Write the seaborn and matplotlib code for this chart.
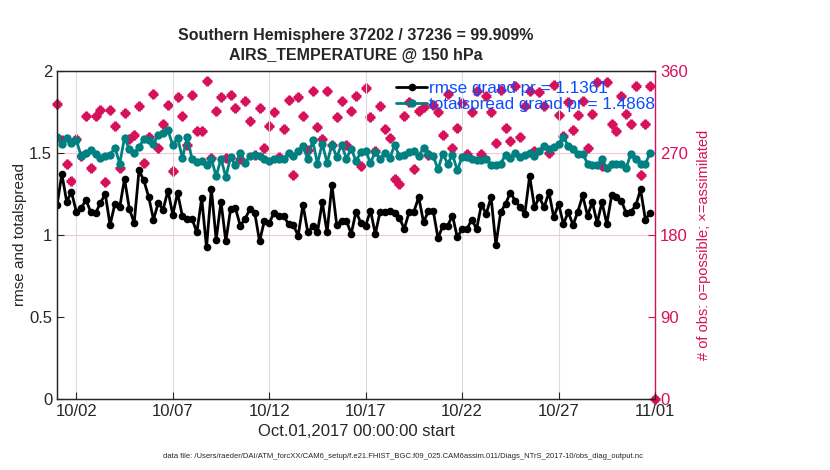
import pandas as pd
import matplotlib
matplotlib.use("Agg")
import matplotlib.pyplot as plt
import matplotlib.dates as mdates
import numpy as np
import seaborn as sns

# 6-hourly bins, Oct 1 00Z .. Nov 1 00Z
times = pd.date_range("2017-10-01 00:00", periods=125, freq="6h")

rmse = [1.18, 1.373, 1.204, 1.261, 1.143, 1.163, 1.214, 1.139, 1.135, 1.194,
        1.251, 1.061, 1.19, 1.169, 1.343, 1.159, 1.073, 1.394, 1.333, 1.233,
        1.094, 1.196, 1.155, 1.271, 1.124, 1.257, 1.114, 1.098, 1.098, 1.016,
        1.224, 0.924, 1.282, 0.971, 1.204, 0.961, 1.159, 1.163, 1.057, 1.098,
        1.159, 1.135, 0.961, 1.088, 1.073, 1.135, 1.118, 1.114, 1.067, 1.061,
        0.996, 1.184, 1.016, 1.053, 1.016, 1.2, 1.016, 1.306, 1.061, 1.088,
        1.088, 1.006, 1.143, 1.073, 1.057, 1.149, 1.006, 1.143, 1.143, 1.149,
        1.133, 1.104, 1.037, 1.139, 1.143, 1.231, 1.078, 1.145, 1.149, 0.98,
        1.057, 1.057, 1.118, 0.986, 1.037, 1.037, 1.094, 1.037, 1.184, 1.129,
        1.231, 0.941, 1.139, 1.19, 1.257, 1.21, 1.169, 1.129, 1.359, 1.169,
        1.231, 1.169, 1.261, 1.108, 1.19, 1.067, 1.139, 1.061, 1.143, 1.241,
        1.118, 1.2, 1.073, 1.2, 1.067, 1.241, 1.231, 1.21, 1.135, 1.143,
        1.18, 1.278, 1.094, 1.135, np.nan]

totalspread = [1.598, 1.557, 1.592, 1.563, 1.578, 1.482, 1.502, 1.516, 1.496, 1.469,
               1.482, 1.49, 1.533, 1.435, 1.594, 1.522, 1.5, 1.537, 1.584, 1.578,
               1.557, 1.612, 1.624, 1.639, 1.547, 1.594, 1.469, 1.598, 1.461, 1.445,
               1.449, 1.429, 1.465, 1.359, 1.465, 1.353, 1.476, 1.424, 1.502, 1.439,
               1.482, 1.49, 1.482, 1.461, 1.449, 1.465, 1.461, 1.465, 1.502, 1.482,
               1.51, 1.543, 1.461, 1.578, 1.435, 1.557, 1.441, 1.551, 1.476, 1.551,
               1.465, 1.527, 1.45, 1.506, 1.51, 1.441, 1.506, 1.465, 1.502, 1.469,
               1.547, 1.482, 1.49, 1.506, 1.51, 1.482, 1.531, 1.496, 1.482, 1.4,
               1.496, 1.435, 1.49, 1.394, 1.476, 1.476, 1.465, 1.455, 1.455, 1.465,
               1.429, 1.424, 1.435, 1.49, 1.469, 1.502, 1.476, 1.486, 1.502, 1.482,
               1.51, 1.543, 1.527, 1.537, 1.557, 1.598, 1.543, 1.522, 1.496, 1.496,
               1.435, 1.424, 1.424, 1.461, 1.408, 1.435, 1.435, 1.435, 1.408, 1.496,
               1.461, 1.435, 1.435, 1.502, np.nan]

nposs = [324, 284, 258, 239, 285, 267, 311, 253, 311, 317,
         238, 317, 300, 253, 314, 285, 290, 322, 259, 288,
         335, 275, 302, 323, 250, 331, 311, 279, 334, 294,
         294, 349, 264, 316, 331, 265, 334, 319, 263, 327,
         305, 268, 319, 276, 300, 315, 266, 296, 328, 246,
         331, 311, 273, 338, 298, 285, 338, 279, 309, 327,
         279, 316, 332, 256, 341, 310, 272, 322, 296, 286,
         242, 236, 311, 326, 252, 316, 320, 268, 323, 315,
         290, 335, 276, 297, 325, 269, 315, 338, 269, 332,
         315, 281, 339, 297, 283, 343, 288, 322, 338, 272,
         337, 322, 270, 345, 312, 289, 326, 295, 312, 327,
         276, 313, 348, 256, 348, 302, 294, 333, 313, 302,
         344, 246, 302, 343, 0]
nused = list(nposs)

crimson = "#d6105a"
teal = "#008080"
legend_blue = "#0a4cff"

df = pd.DataFrame({"time": times, "rmse": rmse, "totalspread": totalspread,
                   "nposs": nposs, "nused": nused})

sns.set_style("ticks")
plt.rcParams["font.family"] = ["Liberation Sans", "DejaVu Sans"]

fig = plt.figure(figsize=(8.3, 4.7), dpi=100)
ax = fig.add_axes([0.0687, 0.151, 0.7205, 0.698])
ax2 = ax.twinx()

# obs counts on right axis
sns.scatterplot(data=df, x="time", y="nposs", ax=ax2, marker="o", s=32,
                color=crimson, edgecolor=crimson, linewidth=0.5, clip_on=False, zorder=2)
sns.scatterplot(data=df, x="time", y="nused", ax=ax2, marker="+", s=60,
                color=crimson, linewidth=2.2, clip_on=False, zorder=2)
ax2.set_ylim(0, 360)
ax2.set_yticks([0, 90, 180, 270, 360])
ax2.set_ylabel("# of obs: o=possible; \u00d7=assimilated", color=crimson, fontsize=10.5)
ax2.yaxis.set_label_coords(1.07, 0.47)
ax2.tick_params(axis="y", colors=crimson, direction="in", labelsize=12, length=5)
ax2.spines["right"].set_color(crimson)
ax2.spines["right"].set_linewidth(1.0)
for v in [180, 270]:
    ax2.axhline(v, color="#f4c6d6", lw=0.8, zorder=0)

# rmse / spread on left axis, drawn above counts
ax.set_zorder(ax2.get_zorder() + 1)
ax.patch.set_visible(False)
sns.lineplot(data=df, x="time", y="rmse", ax=ax, color="black", lw=2,
             marker="o", markersize=5.5, markeredgewidth=0,
             label="rmse grand pr = 1.1361")
sns.lineplot(data=df, x="time", y="totalspread", ax=ax, color=teal, lw=2,
             marker="o", markersize=6, markeredgewidth=0,
             label="totalspread grand pr = 1.4868")

ax.set_xlim(times[0], times[-1])
ax.set_ylim(0, 2)
ax.set_yticks([0, 0.5, 1, 1.5, 2])
ax.set_yticklabels(["0", "0.5", "1", "1.5", "2"])
xt = pd.date_range("2017-10-02", "2017-11-01", freq="5D")
ax.set_xticks(xt)
ax.xaxis.set_major_formatter(mdates.DateFormatter("%m/%d"))
for t in xt:
    ax.axvline(t, color="#dcdcdc", lw=0.8, zorder=0)
ax.tick_params(direction="in", labelsize=12, length=5)
ax2.tick_params(axis="x", direction="in")
ax.set_ylabel("rmse and totalspread", fontsize=11)
ax.yaxis.set_label_coords(-0.05, 0.5)
ax.set_xlabel("Oct.01,2017 00:00:00 start", fontsize=12, labelpad=4)
for s in ["left", "top", "bottom"]:
    ax.spines[s].set_linewidth(1.0)
ax.spines["right"].set_visible(False)
ax2.spines["top"].set_color("black")

ax.set_title("Southern Hemisphere 37202 / 37236 = 99.909%\nAIRS_TEMPERATURE @ 150 hPa",
             fontsize=11.5, fontweight="bold", pad=8, linespacing=1.4)

leg = ax.legend(loc="upper left", bbox_to_anchor=(0.556, 0.99), frameon=False,
                fontsize=12.3, handlelength=1.8, handletextpad=0.1, borderaxespad=0,
                labelspacing=0.05)
for txt in leg.get_texts():
    txt.set_color(legend_blue)

fig.text(0.485, 0.025,
         "data file: /Users/raeder/DAI/ATM_forcXX/CAM6_setup/f.e21.FHIST_BGC.f09_025.CAM6assim.011/Diags_NTrS_2017-10/obs_diag_output.nc",
         ha="center", fontsize=5.5)

fig.savefig("out.png", dpi=100)
